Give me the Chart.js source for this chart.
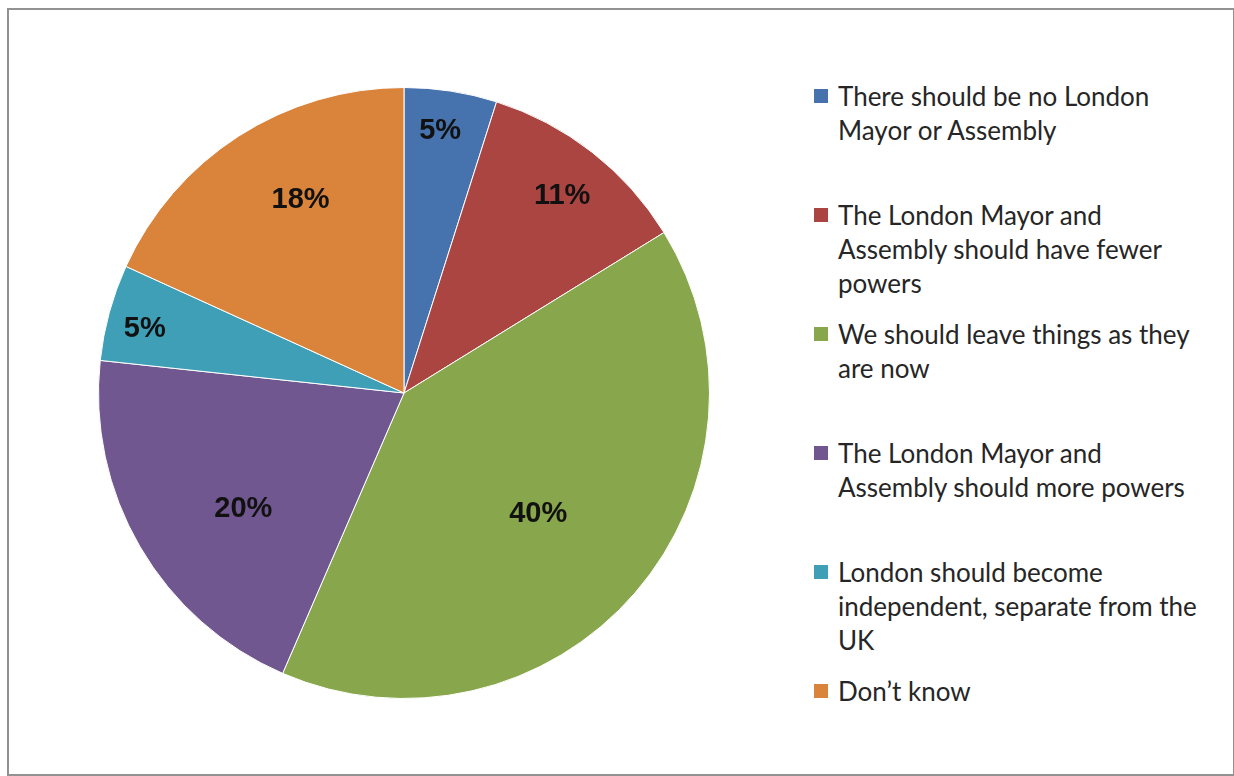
<!DOCTYPE html>
<html>
<head>
    <title>London Mayor and Assembly</title>
    <script src="https://cdn.jsdelivr.net/npm/chart.js"></script>
    <style>
        body {
            margin: 0;
            background-color: #fff;
            font-family: Lato, "Open Sans", sans-serif;
        }
        .frame {
            position: absolute;
            left: 7px;
            top: 8px;
            width: 1224px;
            height: 764px;
            border: 2px solid #929292;
        }
        .pie-box {
            position: absolute;
            left: 98px;
            top: 87px;
            width: 612px;
            height: 612px;
        }
        #legend {
            position: absolute;
            left: 814px;
            top: 79px;
            margin: 0;
            padding: 0;
            list-style: none;
        }
        #legend li {
            position: relative;
            height: 119px;
            padding-left: 24px;
            font-size: 26px;
            line-height: 34px;
            color: #262626;
            white-space: nowrap;
        }
        #legend .box {
            position: absolute;
            left: 0;
            top: 10px;
            width: 14px;
            height: 14px;
        }
    </style>
</head>
<body>

<div class="frame"></div>
<div class="pie-box">
    <canvas id="pieChart" width="612" height="612"></canvas>
</div>
<ul id="legend"></ul>

<script>
    // 응답 항목 (범례 줄바꿈 그대로)
    const answers = [
        ['There should be no London', 'Mayor or Assembly'],
        ['The London Mayor and', 'Assembly should have fewer', 'powers'],
        ['We should leave things as they', 'are now'],
        ['The London Mayor and', 'Assembly should more powers'],
        ['London should become', 'independent, separate from the', 'UK'],
        ['Don\u2019t know']
    ];
    // 그림에서 읽은 조각 크기 (%)
    const shares = [4.9, 11.3, 40.3, 20.2, 5.1, 18.2];
    const shareLabels = ['5%', '11%', '40%', '20%', '5%', '18%'];
    const sliceColors = ['#4672ad', '#ab4542', '#88a64c', '#71578f', '#3f9fb6', '#da843b'];

    // 라벨 위치 보정 (반지름 비율, 각도 도)
    const labelRadius = [0.869, 0.83, 0.59, 0.647, 0.875, 0.72];
    const labelShift = [-1, 0.6, 1, -5.4, -1.2, 4.7];

    const pctLabels = {
        id: 'pctLabels',
        afterDatasetsDraw(chart) {
            const ctx = chart.ctx;
            const arcs = chart.getDatasetMeta(0).data;
            ctx.save();
            ctx.font = 'bold 29px "Liberation Sans", Arial, sans-serif';
            ctx.fillStyle = '#111';
            ctx.textAlign = 'center';
            ctx.textBaseline = 'middle';
            arcs.forEach((arc, i) => {
                const mid = (arc.startAngle + arc.endAngle) / 2 + labelShift[i] * Math.PI / 180;
                const r = arc.outerRadius * labelRadius[i];
                ctx.fillText(shareLabels[i], arc.x + Math.cos(mid) * r, arc.y + Math.sin(mid) * r + 1);
            });
            ctx.restore();
        }
    };

    const pieCtx = document.getElementById('pieChart').getContext('2d');
    const pieChart = new Chart(pieCtx, {
        type: 'pie',
        data: {
            labels: answers.map(a => a.join(' ')),
            datasets: [{
                data: shares,
                backgroundColor: sliceColors,
                borderColor: '#ffffff',
                borderWidth: 1
            }]
        },
        options: {
            responsive: false,
            animation: false,
            layout: { padding: 0 },
            plugins: {
                legend: { display: false },
                tooltip: { enabled: false }
            }
        },
        plugins: [pctLabels]
    });

    // 범례 만들기
    const legend = document.getElementById('legend');
    answers.forEach((lines, i) => {
        const li = document.createElement('li');
        const box = document.createElement('span');
        box.className = 'box';
        box.style.background = sliceColors[i];
        li.appendChild(box);
        lines.forEach((line, j) => {
            if (j > 0) li.appendChild(document.createElement('br'));
            li.appendChild(document.createTextNode(line));
        });
        legend.appendChild(li);
    });
</script>

</body>
</html>
